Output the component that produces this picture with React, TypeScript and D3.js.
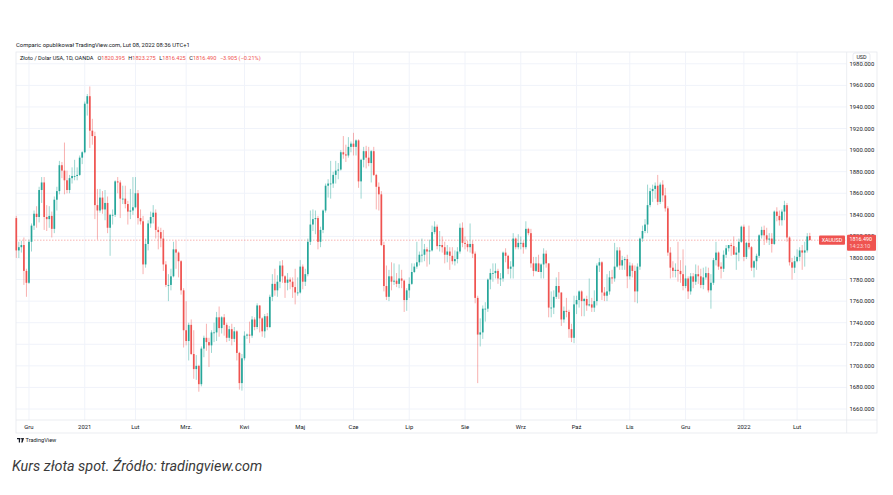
import React from 'react';
import * as d3 from 'd3';

// ---- Data: XAUUSD daily candles (OANDA), 24 Nov 2020 – 8 Feb 2022 ----
const firstDay = '2020-11-24';
const lastDay = '2022-02-08';
const holidays = ['2020-12-25', '2021-01-01'];

const opens = [
  1837, 1807, 1810, 1812, 1788,
  1777, 1815, 1830, 1841, 1838, 1863, 1870, 1838, 1836, 1839, 1827, 1854, 1862, 1886, 1881, 1872, 1863, 1874, 1876, 1876, 1877, 1893,
  1898, 1943, 1950, 1918, 1913, 1849, 1844, 1856, 1845, 1851, 1828, 1840, 1840, 1871, 1870, 1855, 1855, 1850, 1843, 1844,
  1847, 1860, 1837, 1834, 1794, 1813, 1832, 1838, 1842, 1826, 1824, 1818, 1794, 1775, 1775, 1783, 1808, 1805, 1797, 1770,
  1733, 1723, 1738, 1711, 1697, 1700, 1683, 1716, 1726, 1722, 1719, 1731, 1731, 1745, 1735, 1745, 1738, 1726, 1734, 1725, 1732, 1712, 1684,
  1707, 1728, 1729, 1728, 1743, 1736, 1756, 1744, 1732, 1746, 1736, 1764, 1776, 1770, 1778, 1793, 1783, 1777, 1780, 1778, 1773, 1768,
  1768, 1792, 1778, 1785, 1815, 1831, 1836, 1837, 1815, 1826, 1844, 1867, 1869, 1869, 1877, 1881, 1882, 1898, 1896, 1895, 1903,
  1906, 1903, 1909, 1871, 1891, 1899, 1893, 1888, 1899, 1877, 1866, 1859, 1812, 1774, 1764, 1783, 1778, 1779, 1776, 1781, 1779, 1761,
  1770, 1776, 1787, 1792, 1796, 1803, 1803, 1808, 1806, 1807, 1824, 1829, 1811, 1812, 1810, 1803, 1806, 1802, 1797, 1799, 1806, 1828,
  1814, 1813, 1810, 1813, 1804, 1763, 1729, 1731, 1753, 1753, 1780, 1786, 1786, 1788, 1781, 1781, 1805, 1802, 1790, 1792, 1818, 1810,
  1814, 1814, 1810, 1827, 1823, 1795, 1788, 1795, 1787, 1794, 1804, 1795, 1754, 1754, 1764, 1774, 1768, 1743, 1751, 1750, 1734, 1726,
  1757, 1761, 1769, 1760, 1762, 1756, 1757, 1754, 1760, 1793, 1796, 1768, 1765, 1769, 1782, 1781, 1792, 1807, 1793, 1798, 1799,
  1783, 1793, 1788, 1769, 1792, 1818, 1825, 1831, 1849, 1862, 1864, 1867, 1852, 1868, 1858, 1846, 1805, 1791, 1788, 1789, 1788, 1785,
  1774, 1781, 1769, 1783, 1778, 1785, 1783, 1775, 1782, 1786, 1770, 1777, 1798, 1805, 1792, 1790, 1803, 1809, 1812, 1811, 1803, 1805, 1815,
  1829, 1801, 1814, 1810, 1791, 1797, 1802, 1821, 1826, 1821, 1817, 1818, 1813, 1843, 1839, 1835, 1843, 1849, 1819, 1796, 1791,
  1797, 1801, 1807, 1805, 1807, 1820.395,
];

const highs = [
  1839, 1815, 1816, 1819, 1790,
  1817, 1832, 1844, 1848, 1866, 1875, 1875, 1849, 1848, 1843, 1857, 1866, 1890, 1889, 1907, 1881, 1877, 1884, 1891, 1884, 1895, 1899,
  1945, 1952, 1959, 1929, 1917, 1864, 1864, 1862, 1863, 1857, 1841, 1845, 1872, 1875, 1872, 1867, 1867, 1853, 1864, 1875,
  1875, 1863, 1845, 1839, 1818, 1835, 1843, 1849, 1845, 1829, 1828, 1826, 1797, 1785, 1790, 1815, 1816, 1806, 1798, 1772,
  1760, 1740, 1743, 1733, 1710, 1701, 1718, 1728, 1739, 1726, 1733, 1740, 1750, 1755, 1746, 1748, 1740, 1737, 1739, 1736, 1733, 1713, 1711,
  1732, 1730, 1741, 1746, 1745, 1758, 1756, 1745, 1748, 1749, 1766, 1785, 1790, 1784, 1797, 1798, 1784, 1786, 1782, 1782, 1790, 1782,
  1798, 1794, 1790, 1818, 1844, 1845, 1844, 1839, 1829, 1845, 1869, 1873, 1890, 1880, 1890, 1888, 1900, 1913, 1905, 1912, 1908,
  1916, 1910, 1910, 1892, 1903, 1904, 1903, 1900, 1903, 1878, 1870, 1862, 1815, 1793, 1789, 1796, 1795, 1786, 1794, 1789, 1780, 1772,
  1782, 1795, 1795, 1815, 1806, 1818, 1813, 1810, 1817, 1830, 1834, 1831, 1825, 1820, 1815, 1812, 1810, 1810, 1807, 1810, 1832, 1833,
  1820, 1816, 1832, 1816, 1806, 1765, 1744, 1756, 1759, 1781, 1790, 1795, 1795, 1790, 1786, 1806, 1809, 1803, 1797, 1823, 1819, 1822,
  1820, 1816, 1834, 1828, 1827, 1801, 1801, 1803, 1795, 1809, 1807, 1795, 1769, 1770, 1782, 1787, 1768, 1755, 1763, 1752, 1739, 1765,
  1765, 1770, 1770, 1763, 1765, 1781, 1763, 1770, 1795, 1800, 1797, 1773, 1785, 1788, 1789, 1814, 1810, 1810, 1802, 1801, 1803,
  1796, 1795, 1793, 1795, 1819, 1830, 1836, 1868, 1865, 1868, 1870, 1877, 1870, 1872, 1865, 1848, 1810, 1797, 1795, 1815, 1798, 1808,
  1793, 1783, 1786, 1786, 1794, 1793, 1790, 1791, 1792, 1791, 1785, 1800, 1815, 1806, 1796, 1807, 1812, 1812, 1814, 1820, 1810, 1818, 1830,
  1831, 1815, 1830, 1811, 1798, 1804, 1822, 1829, 1830, 1828, 1823, 1823, 1844, 1847, 1844, 1845, 1853, 1851, 1820, 1800, 1802,
  1808, 1810, 1812, 1815, 1823, 1823.275,
];

const lows = [
  1800, 1800, 1805, 1775, 1764,
  1776, 1806, 1826, 1828, 1833, 1851, 1826, 1825, 1828, 1819, 1823, 1844, 1859, 1874, 1859, 1860, 1860, 1869, 1872, 1872, 1876, 1887,
  1897, 1932, 1902, 1905, 1836, 1817, 1842, 1841, 1835, 1823, 1802, 1831, 1838, 1860, 1837, 1850, 1846, 1831, 1836, 1840,
  1846, 1831, 1831, 1785, 1791, 1807, 1828, 1832, 1818, 1808, 1810, 1788, 1773, 1760, 1770, 1782, 1790, 1782, 1766, 1717,
  1719, 1705, 1710, 1688, 1687, 1676, 1681, 1708, 1714, 1699, 1712, 1722, 1723, 1727, 1730, 1728, 1722, 1723, 1719, 1722, 1705, 1678, 1677,
  1705, 1725, 1721, 1726, 1733, 1734, 1731, 1727, 1726, 1733, 1735, 1760, 1765, 1764, 1772, 1777, 1763, 1770, 1771, 1763, 1757, 1765,
  1767, 1771, 1774, 1783, 1812, 1825, 1822, 1808, 1810, 1823, 1842, 1856, 1855, 1865, 1869, 1873, 1881, 1892, 1889, 1893, 1898,
  1895, 1895, 1865, 1855, 1884, 1883, 1885, 1870, 1876, 1845, 1844, 1811, 1769, 1761, 1760, 1770, 1775, 1773, 1772, 1772, 1750, 1751,
  1763, 1775, 1786, 1790, 1793, 1796, 1797, 1792, 1794, 1806, 1822, 1808, 1806, 1805, 1795, 1796, 1789, 1794, 1793, 1795, 1804, 1810,
  1808, 1806, 1805, 1800, 1758, 1684, 1718, 1725, 1741, 1750, 1771, 1778, 1781, 1776, 1774, 1778, 1796, 1785, 1781, 1781, 1808, 1808,
  1808, 1804, 1808, 1821, 1791, 1783, 1787, 1787, 1781, 1781, 1791, 1745, 1745, 1748, 1762, 1762, 1737, 1740, 1745, 1726, 1722, 1721,
  1748, 1754, 1746, 1746, 1751, 1755, 1750, 1750, 1756, 1787, 1761, 1760, 1760, 1766, 1776, 1778, 1791, 1789, 1789, 1789, 1772,
  1780, 1782, 1759, 1758, 1789, 1815, 1823, 1823, 1847, 1852, 1855, 1849, 1850, 1852, 1843, 1802, 1781, 1782, 1782, 1778, 1777, 1770,
  1772, 1762, 1766, 1772, 1775, 1776, 1772, 1771, 1780, 1768, 1753, 1775, 1793, 1789, 1781, 1787, 1800, 1806, 1802, 1804, 1789, 1797, 1814,
  1797, 1799, 1808, 1788, 1782, 1789, 1800, 1818, 1812, 1814, 1812, 1805, 1812, 1834, 1830, 1830, 1835, 1815, 1793, 1780, 1786,
  1796, 1797, 1789, 1792, 1805, 1816.425,
];

const closes = [
  1807, 1810, 1812, 1788, 1777,
  1815, 1830, 1841, 1838, 1863, 1870, 1838, 1836, 1839, 1827, 1854, 1862, 1886, 1881, 1872, 1863, 1874, 1876, 1876, 1877, 1893, 1898,
  1943, 1950, 1918, 1913, 1849, 1844, 1856, 1845, 1851, 1828, 1840, 1840, 1871, 1870, 1855, 1855, 1850, 1843, 1844, 1847,
  1860, 1837, 1834, 1794, 1813, 1832, 1838, 1842, 1826, 1824, 1818, 1794, 1775, 1775, 1783, 1808, 1805, 1797, 1770, 1733,
  1723, 1738, 1711, 1697, 1700, 1683, 1716, 1726, 1722, 1719, 1731, 1731, 1745, 1735, 1745, 1738, 1726, 1734, 1725, 1732, 1712, 1684, 1707,
  1728, 1729, 1728, 1743, 1736, 1756, 1744, 1732, 1746, 1736, 1764, 1776, 1770, 1778, 1793, 1783, 1777, 1780, 1778, 1773, 1768, 1768,
  1792, 1778, 1785, 1815, 1831, 1836, 1837, 1815, 1826, 1844, 1867, 1869, 1869, 1877, 1881, 1882, 1898, 1896, 1895, 1903, 1906,
  1903, 1909, 1871, 1891, 1899, 1893, 1888, 1899, 1877, 1866, 1859, 1812, 1774, 1764, 1783, 1778, 1779, 1776, 1781, 1779, 1761, 1770,
  1776, 1787, 1792, 1796, 1803, 1803, 1808, 1806, 1807, 1824, 1829, 1811, 1812, 1810, 1803, 1806, 1802, 1797, 1799, 1806, 1828, 1814,
  1813, 1810, 1813, 1804, 1763, 1729, 1731, 1753, 1753, 1780, 1786, 1786, 1788, 1781, 1781, 1805, 1802, 1790, 1792, 1818, 1810, 1814,
  1814, 1810, 1827, 1823, 1795, 1788, 1795, 1787, 1794, 1804, 1795, 1754, 1754, 1764, 1774, 1768, 1743, 1751, 1750, 1734, 1726, 1757,
  1761, 1769, 1760, 1762, 1756, 1757, 1754, 1760, 1793, 1796, 1768, 1765, 1769, 1782, 1781, 1792, 1807, 1793, 1798, 1799, 1783,
  1793, 1788, 1769, 1792, 1818, 1825, 1831, 1849, 1862, 1864, 1867, 1852, 1868, 1858, 1846, 1805, 1791, 1788, 1789, 1788, 1785, 1774,
  1781, 1769, 1783, 1778, 1785, 1783, 1775, 1782, 1786, 1770, 1777, 1798, 1805, 1792, 1790, 1803, 1809, 1812, 1811, 1803, 1805, 1815, 1829,
  1801, 1814, 1810, 1791, 1797, 1802, 1821, 1826, 1821, 1817, 1818, 1813, 1843, 1839, 1835, 1843, 1849, 1819, 1796, 1791, 1797,
  1801, 1807, 1805, 1807, 1820, 1816.49,
];

const yTicks = [1660, 1680, 1700, 1720, 1740, 1760, 1780, 1800, 1820, 1840, 1860, 1880, 1900, 1920, 1940, 1960, 1980];
const xTickLabels = ['Gru', '2021', 'Lut', 'Mrz.', 'Kwi', 'Maj', 'Cze', 'Lip', 'Sie', 'Wrz', 'Paź', 'Lis', 'Gru', '2022', 'Lut'];
const xTickDates = ['2020-12-01', '2021-01-04', '2021-02-01', '2021-03-01', '2021-04-01', '2021-05-03', '2021-06-01', '2021-07-01', '2021-08-02', '2021-09-01', '2021-10-01', '2021-11-01', '2021-12-01', '2022-01-03', '2022-02-01'];

const lastPrice = 1816.49;
const legendValues = { o: '1820.395', h: '1823.275', l: '1816.425', c: '1816.490', chg: '−3.905 (−0.21%)' };

const UP = '#26a69a';
const DOWN = '#ef5350';
const FONT = 'Roboto, "Liberation Sans", Arial, sans-serif';

function tradingDays(): string[] {
  const fmt = d3.timeFormat('%Y-%m-%d');
  const parse = d3.timeParse('%Y-%m-%d');
  const start = parse(firstDay) as Date;
  const end = d3.timeDay.offset(parse(lastDay) as Date, 1);
  return d3.timeDay
    .range(start, end)
    .filter((d) => d.getDay() !== 0 && d.getDay() !== 6)
    .map(fmt)
    .filter((s) => !holidays.includes(s));
}

export default function App() {
  const days = tradingDays();
  const n = closes.length;
  const plotL = 16, plotR = 846.7, plotT = 52, plotB = 420, frameR = 877, frameB = 433;

  const x = d3.scaleLinear().domain([0, n - 1]).range([16.3, 809.8]);
  const y = d3.scaleLinear().domain([1660, 1980]).range([409, 63.8]);

  const ticks = xTickDates.map((d, i) => ({ label: xTickLabels[i], idx: days.indexOf(d) })).filter((t) => t.idx >= 0);
  const bodyW = 1.7;
  const py = y(lastPrice);

  return (
    <svg width={893} height={495} style={{ position: 'absolute', left: 0, top: 0, background: '#fff' }} fontFamily={FONT}>
      <rect x={0} y={0} width={893} height={495} fill="#fff" />
      {/* header */}
      <text x={16} y={46.5} fontSize={5.85} fill="#131722">Comparic opublikował TradingView.com, Lut 08, 2022 08:36 UTC+1</text>

      {/* grid */}
      <g>
        {yTicks.map((t) => (
          <line key={'hg' + t} x1={plotL} x2={plotR} y1={y(t)} y2={y(t)} stroke="#f0f3fa" strokeWidth={1} />
        ))}
        {ticks.map((t) => (
          <line key={'vg' + t.idx} x1={x(t.idx)} x2={x(t.idx)} y1={plotT} y2={plotB} stroke="#f0f3fa" strokeWidth={1} />
        ))}
      </g>

      {/* frame */}
      <rect x={plotL} y={plotT} width={frameR - plotL} height={frameB - plotT} fill="none" stroke="#e6e8ee" strokeWidth={0.8} />
      <line x1={plotR} x2={plotR} y1={plotT} y2={frameB} stroke="#e6e8ee" strokeWidth={0.8} />
      <line x1={plotL} x2={frameR} y1={plotB} y2={plotB} stroke="#e6e8ee" strokeWidth={0.8} />

      {/* last price line */}
      <line x1={plotL} x2={plotR} y1={py} y2={py} stroke={DOWN} strokeOpacity={0.55} strokeWidth={0.8} strokeDasharray="1.5,1.5" />

      {/* candles */}
      <g>
        {closes.map((c, i) => {
          const o = opens[i];
          const col = c >= o ? UP : DOWN;
          const cx = x(i);
          const top = y(Math.max(o, c));
          const h = Math.max(0.8, Math.abs(y(o) - y(c)));
          return (
            <g key={i}>
              <line x1={cx} x2={cx} y1={y(highs[i])} y2={y(lows[i])} stroke={col} strokeOpacity={0.5} strokeWidth={0.9} />
              <rect x={cx - bodyW / 2} y={top} width={bodyW} height={h} fill={col} />
            </g>
          );
        })}
      </g>

      {/* legend */}
      <text x={20} y={59.5} fontSize={5.6} fill="#131722">
        <tspan>Złoto / Dolar USA, 1D, OANDA</tspan>
        <tspan dx={4}>O</tspan><tspan fill={DOWN}>{legendValues.o}</tspan>
        <tspan dx={3.5}>H</tspan><tspan fill={DOWN}>{legendValues.h}</tspan>
        <tspan dx={3.5}>L</tspan><tspan fill={DOWN}>{legendValues.l}</tspan>
        <tspan dx={3.5}>C</tspan><tspan fill={DOWN}>{legendValues.c}</tspan>
        <tspan dx={3.5} fill={DOWN}>{legendValues.chg}</tspan>
      </text>

      {/* y axis labels */}
      <g>
        {yTicks.map((t) => (
          <text key={'yl' + t} x={849.5} y={y(t)} dy="0.35em" fontSize={5.9} fill="#131722">{t.toFixed(3)}</text>
        ))}
      </g>
      <rect x={853} y={53} width={17} height={8.5} rx={2} fill="#fff" stroke="#e0e3eb" strokeWidth={0.7} />
      <text x={861.5} y={57.3} dy="0.35em" fontSize={5.4} textAnchor="middle" fill="#131722">USD</text>

      {/* price labels */}
      <rect x={819} y={py - 4.6} width={26} height={9.2} rx={1} fill={DOWN} />
      <text x={832} y={py} dy="0.35em" fontSize={5.4} textAnchor="middle" fill="#fff">XAUUSD</text>
      <rect x={847} y={py - 5.5} width={29} height={16} rx={1} fill={DOWN} />
      <text x={849.5} y={py - 1} dy="0.35em" fontSize={5.4} fill="#fff">{lastPrice.toFixed(3)}</text>
      <text x={849.5} y={py + 5.6} dy="0.35em" fontSize={5.4} fill="#fff" fillOpacity={0.75}>14:23:10</text>

      {/* x axis labels */}
      <g>
        {ticks.map((t) => (
          <text key={'xl' + t.idx} x={x(t.idx)} y={426.5} dy="0.35em" fontSize={5.9} textAnchor="middle" fill="#131722">{t.label}</text>
        ))}
      </g>

      {/* TradingView logo */}
      <g transform="translate(17,438)">
        <path d="M0 0 H3 V4.5 H1.8 V1.2 H0 Z" fill="#131722" />
        <circle cx={4.2} cy={0.8} r={0.8} fill="#131722" />
        <path d="M5.2 0 H7 L5.6 4.5 H4.2 Z" fill="#131722" />
        <text x={8.5} y={3.9} fontSize={5.6} fill="#131722">TradingView</text>
      </g>

      {/* caption */}
      <text x={12} y={471} fontSize={14.4} fontStyle="italic" fill="#3a3a3a">Kurs złota spot. Źródło: tradingview.com</text>
    </svg>
  );
}
